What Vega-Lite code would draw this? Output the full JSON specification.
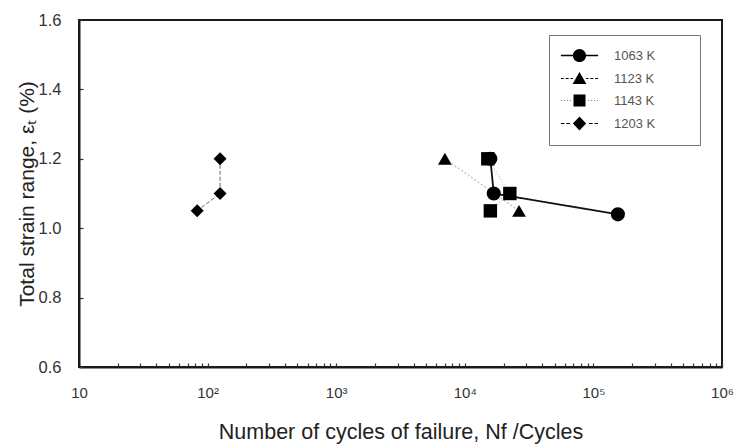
{
  "$schema": "https://vega.github.io/schema/vega-lite/v6.json",
  "autosize": {"type": "none"},
  "padding": {"left": 79, "top": 20, "right": 15, "bottom": 78},
  "width": 643,
  "height": 347,
  "background": "white",
  "config": {
    "view": {"stroke": "#1a1a1a", "strokeWidth": 2},
    "font": "Liberation Sans",
    "axis": {"grid": false, "domainColor": "#1a1a1a", "domainWidth": 2, "tickColor": "#333", "tickWidth": 1.2, "labelColor": "#333", "titleColor": "#222", "labelFont": "Liberation Sans", "titleFont": "Liberation Sans", "titleFontWeight": "normal"}
  },
  "data": {
    "values": [
      {"temp": "1063 K", "N": 15800, "strain": 1.2},
      {"temp": "1063 K", "N": 16800, "strain": 1.1},
      {"temp": "1063 K", "N": 155000, "strain": 1.04},
      {"temp": "1123 K", "N": 7000, "strain": 1.2},
      {"temp": "1123 K", "N": 26400, "strain": 1.05},
      {"temp": "1143 K", "N": 15100, "strain": 1.2},
      {"temp": "1143 K", "N": 22400, "strain": 1.1},
      {"temp": "1143 K", "N": 15800, "strain": 1.05},
      {"temp": "1203 K", "N": 83, "strain": 1.05},
      {"temp": "1203 K", "N": 125, "strain": 1.1},
      {"temp": "1203 K", "N": 125, "strain": 1.2}
    ]
  },
  "encoding": {
    "x": {
      "field": "N", "type": "quantitative",
      "scale": {"type": "log", "domain": [10, 1000000], "nice": false},
      "axis": {
        "title": "Number of cycles of failure, Nf /Cycles",
        "titleFontSize": 21.5, "titlePadding": 21,
        "values": [10,20,30,40,50,60,70,80,90,100,200,300,400,500,600,700,800,900,1000,2000,3000,4000,5000,6000,7000,8000,9000,10000,20000,30000,40000,50000,60000,70000,80000,90000,100000,200000,300000,400000,500000,600000,700000,800000,900000,1000000],
        "labelExpr": "datum.value == 10 ? '10' : datum.value == 100 ? '10²' : datum.value == 1000 ? '10³' : datum.value == 10000 ? '10⁴' : datum.value == 100000 ? '10⁵' : datum.value == 1000000 ? '10⁶' : ''",
        "labelFontSize": 15, "labelPadding": 22, "tickSize": -4,
        "labelOverlap": false, "labelFlush": false
      }
    },
    "y": {
      "field": "strain", "type": "quantitative",
      "scale": {"domain": [0.6, 1.6], "nice": false, "zero": false},
      "axis": {
        "title": "Total strain range, εₜ (%)",
        "titleFontSize": 21, "titlePadding": 1,
        "values": [0.6, 0.8, 1.0, 1.2, 1.4, 1.6],
        "format": ".1f",
        "labelFontSize": 16.5, "labelPadding": 22, "tickSize": -4
      }
    }
  },
  "layer": [
    {
      "mark": {"type": "line"},
      "encoding": {
        "detail": {"field": "temp"},
        "order": {"field": "strain", "sort": "descending"},
        "color": {"field": "temp", "type": "nominal", "scale": {"domain": ["1063 K", "1123 K", "1143 K", "1203 K"], "range": ["#111111", "#c8c8c8", "#c4c4c4", "#666666"]}, "legend": null},
        "strokeDash": {"field": "temp", "type": "nominal", "scale": {"domain": ["1063 K", "1123 K", "1143 K", "1203 K"], "range": [[1, 0], [2, 2], [1, 2], [4, 2]]}, "legend": null},
        "strokeWidth": {"field": "temp", "type": "nominal", "scale": {"domain": ["1063 K", "1123 K", "1143 K", "1203 K"], "range": [1.8, 1, 1, 1.2]}, "legend": null}
      }
    },
    {
      "mark": {"type": "point", "filled": true, "opacity": 1, "color": "black"},
      "encoding": {
        "shape": {"field": "temp", "type": "nominal", "scale": {"domain": ["1063 K", "1123 K", "1143 K", "1203 K"], "range": ["circle", "triangle-up", "square", "diamond"]}, "legend": null},
        "size": {"field": "temp", "type": "nominal", "scale": {"domain": ["1063 K", "1123 K", "1143 K", "1203 K"], "range": [200, 170, 160, 150]}, "legend": null}
      }
    },
    {
      "mark": {"type": "point", "filled": true, "opacity": 0, "color": "black"},
      "encoding": {
        "shape": {
          "field": "temp", "type": "nominal",
          "scale": {"domain": ["1063 K", "1123 K", "1143 K", "1203 K"], "range": [
            "M-3.1,-0.13H-1.05V0.13H-3.1ZM1.05,-0.13H3.1V0.13H1.05ZM1.1,0A1.1,1.1 0 1,1 -1.1,0A1.1,1.1 0 1,1 1.1,0Z",
            "M-3.1,-0.07H-2.6V0.07H-3.1ZM-2.3,-0.07H-1.8V0.07H-2.3ZM-1.5,-0.07H-1.1V0.07H-1.5ZM1.1,-0.07H1.5V0.07H1.1ZM1.8,-0.07H2.3V0.07H1.8ZM2.6,-0.07H3.1V0.07H2.6ZM0,-1.1L1.15,0.9L-1.15,0.9Z",
            "M-3.1,-0.06H-2.92V0.06H-3.1ZM-2.6,-0.06H-2.42V0.06H-2.6ZM-2.1,-0.06H-1.92V0.06H-2.1ZM-1.6,-0.06H-1.42V0.06H-1.6ZM1.42,-0.06H1.6V0.06H1.42ZM1.92,-0.06H2.1V0.06H1.92ZM2.42,-0.06H2.6V0.06H2.42ZM2.92,-0.06H3.1V0.06H2.92ZM-1,-1H1V1H-1Z",
            "M-3.1,-0.08H-2.5V0.08H-3.1ZM-2.2,-0.08H-1.6V0.08H-2.2ZM1.6,-0.08H2.2V0.08H1.6ZM2.5,-0.08H3.1V0.08H2.5ZM0,-1.15L1.1,0L0,1.15L-1.1,0Z"
          ]},
          "legend": {
            "title": null,
            "orient": "none", "legendX": 470, "legendY": 15,
            "strokeColor": "#777777", "padding": 14,
            "symbolSize": 144, "symbolOffset": 10, "labelOffset": 28,
            "symbolFillColor": "black", "symbolStrokeWidth": 0,
            "labelFont": "Liberation Sans", "labelFontSize": 13, "labelColor": "#555555",
            "labelExpr": "datum.label + '\u2800\u2800\u2800'",
            "rowPadding": 8,
            "encode": {
              "legend": {"update": {"strokeWidth": {"value": 1.5}}},
              "symbols": {"update": {"fill": {"value": "black"}, "opacity": {"value": 1}, "strokeWidth": {"value": 0}}}
            }
          }
        }
      }
    }
  ],
  "resolve": {"scale": {"shape": "independent"}, "legend": {"shape": "independent"}}
}
